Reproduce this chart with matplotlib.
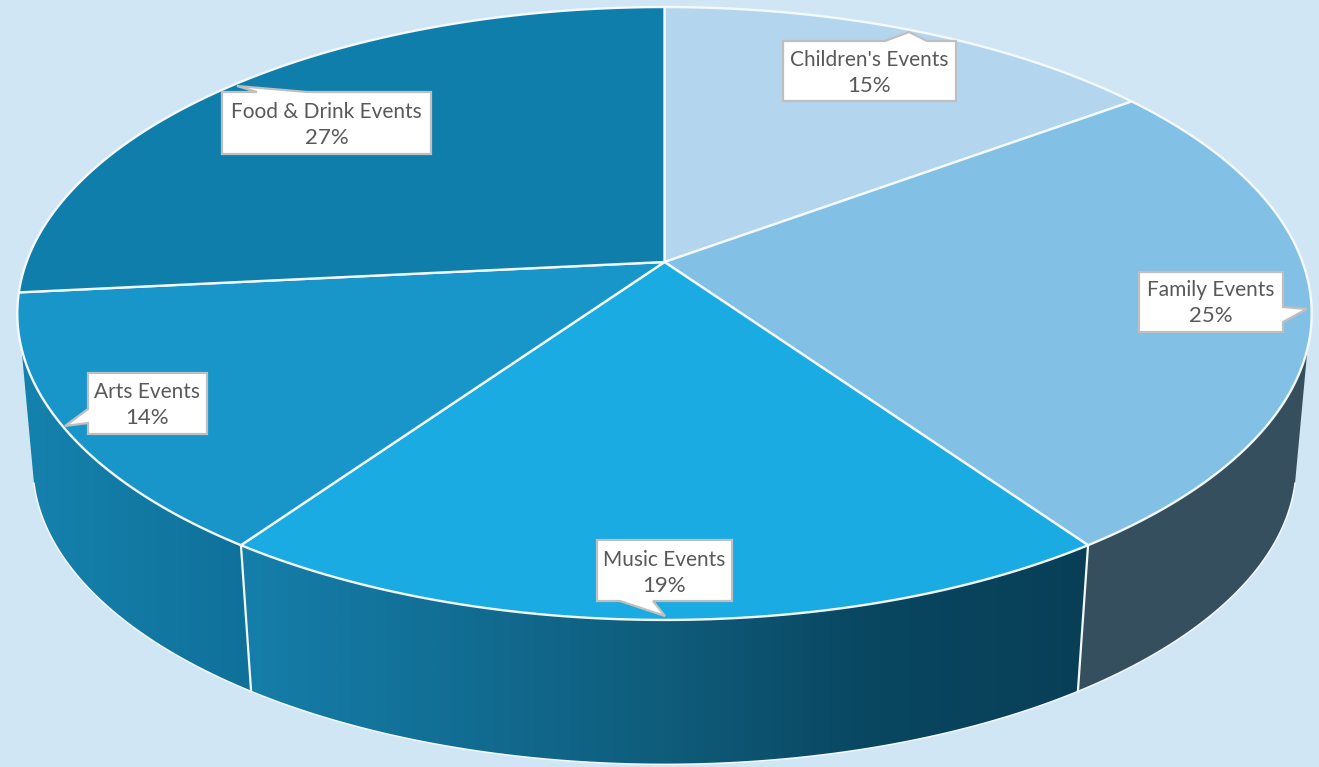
import numpy as np
import matplotlib
matplotlib.use("Agg")
import matplotlib.pyplot as plt
from matplotlib.patches import Polygon
from matplotlib.colors import LinearSegmentedColormap

categories = ["Children's Events", "Family Events", "Music Events", "Arts Events", "Food & Drink Events"]
shares = [14.9, 25.4, 19.4, 13.7, 26.6]

top_colors = ["#B3D5EE", "#82C0E6", "#1AABE2", "#1896CA", "#107EAB"]
BG = "#D1E6F5"
WHITE = "#F4F9FD"
TEXT = "#595959"
BORDER = "#BFBFBF"
FONT = "Lato"

W, H = 1319, 767
CX, CY = 664.5, 262
A, B, K = 638, 297.8, 0.168
SIDE_SCALE, SIDE_CY = 0.976, 415
SIL_R, SIL_L = 106, 254      # silhouette angle on the top rim
BSIL_R, BSIL_L = 103, 257    # silhouette angle on the bottom rim

callouts = {
    0: dict(box=(783, 956, 41, 101), side="top", ptr=[(885, 41), (909, 32), (927, 41)]),
    1: dict(box=(1139, 1283, 272, 332), side="right", ptr=[(1283, 307), (1307, 309), (1283, 322)]),
    2: dict(box=(597, 732, 540, 601), side="bottom", ptr=[(653, 601), (665, 616), (620, 601)]),
    3: dict(box=(88, 207, 373, 434), side="left", ptr=[(88, 423), (65, 426), (88, 409)]),
    4: dict(box=(222, 431, 92, 154), side="top", ptr=[(257, 92), (237, 86), (307, 92)]),
}


def top(theta):
    t = np.radians(theta)
    u, v = np.sin(t), np.cos(t)
    d = 1 + K * v
    return CX + A * u / d, CY - B * v / d


def bottom(theta):
    x, y = top(theta)
    return CX + SIDE_SCALE * (x - CX), SIDE_CY + SIDE_SCALE * (y - CY)


def side_band(ax, t0, t1, b0, b1, stops, x0, x1):
    tx, ty = top(np.linspace(t0, t1, 120))
    bx, by = bottom(np.linspace(b0, b1, 120))
    pts = np.column_stack([np.r_[tx, bx[::-1]], np.r_[ty, by[::-1]]])
    if len(stops) == 1:
        ax.add_patch(Polygon(pts, closed=True, fc=stops[0], ec="none", zorder=2))
    else:
        patch = Polygon(pts, closed=True, fc="none", ec="none", zorder=2)
        ax.add_patch(patch)
        cmap = LinearSegmentedColormap.from_list("g", stops)
        img = ax.imshow(np.linspace(0, 1, 512)[None, :], cmap=cmap, aspect="auto",
                        extent=[x0, x1, H, 0], zorder=2, interpolation="bilinear")
        img.set_clip_path(patch)
    ax.plot(bx, by, color=WHITE, lw=1.1, zorder=3, solid_capstyle="round")


fig = plt.figure(figsize=(W / 100, H / 100), dpi=100, facecolor=BG)
ax = fig.add_axes([0, 0, 1, 1])
ax.set_facecolor(BG)
ax.axis("off")

edges = np.r_[0, np.cumsum(shares)] / np.sum(shares) * 360

# extruded sides: family, music, arts
side_band(ax, SIL_R, edges[2], BSIL_R, edges[2], ["#364F5F"], 0, 1)
side_band(ax, edges[2], edges[3], edges[2], edges[3],
          ["#157FAB", "#126E94", "#0F5C7B", "#094660", "#083F57"], 235, 1095)
side_band(ax, edges[3], SIL_L, edges[3], BSIL_L, ["#0F7099", "#1583AE"], 262, 10)
for a in (edges[2], edges[3]):
    x0, y0 = top(a)
    x1, y1 = bottom(a)
    ax.plot([x0, x1], [y0, y1], color=WHITE, lw=1.6, zorder=4)

# top face
for i, c in enumerate(top_colors):
    th = np.linspace(edges[i], edges[i + 1], 200)
    x, y = top(th)
    ax.add_patch(Polygon(np.column_stack([np.r_[CX, x], np.r_[CY, y]]), closed=True,
                         fc=c, ec=WHITE, lw=1.7, joinstyle="round", zorder=5))

# callouts
for i, c in callouts.items():
    l, r, t, b = c["box"]
    p = c["ptr"]
    if c["side"] == "top":
        outline = [(l, t)] + p + [(r, t), (r, b), (l, b)]
    elif c["side"] == "right":
        outline = [(l, t), (r, t)] + p + [(r, b), (l, b)]
    elif c["side"] == "bottom":
        outline = [(l, t), (r, t), (r, b)] + p + [(l, b)]
    else:
        outline = [(l, t), (r, t), (r, b), (l, b)] + p
    ax.add_patch(Polygon(outline, closed=True, fc="white", ec=BORDER, lw=1.6,
                         joinstyle="miter", zorder=6))
    xm = (l + r) / 2
    ax.text(xm, b - 41.5, categories[i], ha="center", va="center", fontsize=15,
            color=TEXT, family=FONT, zorder=7)
    ax.text(xm, b - 15.5, f"{round(shares[i])}%", ha="center", va="center", fontsize=16,
            color=TEXT, family=FONT, zorder=7)

ax.set_xlim(0, W)
ax.set_ylim(H, 0)
fig.savefig("out.png", dpi=100, facecolor=BG)
